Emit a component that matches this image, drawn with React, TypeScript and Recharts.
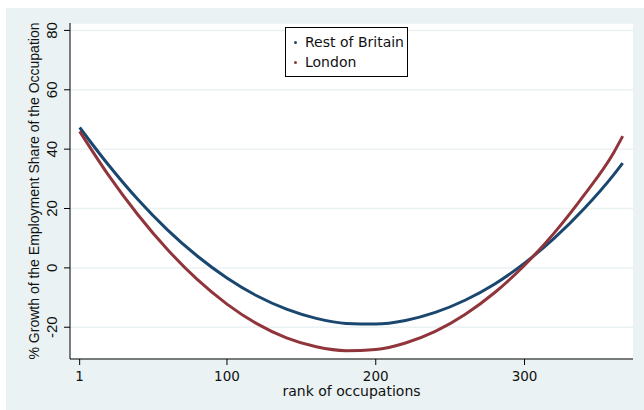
import { CartesianGrid, Legend, Line, LineChart, XAxis, YAxis } from "recharts";

const ranks = [1, 20, 40, 60, 80, 100, 120, 140, 160, 180, 200, 220, 240, 260, 280, 300, 320, 340, 360, 366];
const restOfBritain = [47.3, 34.9, 23.1, 12.8, 4.0, -3.4, -9.4, -13.9, -17.0, -18.7, -18.9, -17.7, -15.0, -10.9, -5.4, 1.6, 10.0, 19.9, 31.4, 35.3];
const london = [46.0, 31.5, 18.0, 6.2, -3.9, -12.2, -18.8, -23.6, -26.6, -27.9, -27.5, -25.3, -21.4, -15.7, -8.3, 0.9, 11.8, 24.5, 38.9, 44.4];

const xTicks = [1, 100, 200, 300];
const yTicks = [-20, 0, 20, 40, 60, 80];
const seriesNames = ["Rest of Britain", "London"];

const BLUE = "#1a476f";
const RED = "#90353b";
const BG = "#eaf2f3";
const H_FONT = "'DejaVu Sans', sans-serif";
const V_FONT = "'Liberation Sans', Arial, sans-serif";

const data = ranks.map((r, i) => ({ rank: r, rob: restOfBritain[i], london: london[i] }));

function XTick({ x, y, payload }: any) {
  return (
    <text x={x} y={y + 11} textAnchor="middle" dominantBaseline="central" fontFamily={H_FONT} fontSize={13.5} fill="#111">
      {payload.value}
    </text>
  );
}

function YTick({ x, y, payload }: any) {
  const cx = x - 12;
  return (
    <text
      x={cx}
      y={y}
      transform={`rotate(-90, ${cx}, ${y})`}
      textAnchor="middle"
      dominantBaseline="central"
      fontFamily={V_FONT}
      fontSize={15}
      fill="#111"
    >
      {payload.value}
    </text>
  );
}

function LegendBox() {
  const colors = [BLUE, RED];
  return (
    <div
      style={{
        width: 123,
        height: 50,
        boxSizing: "border-box",
        border: "1px solid #000",
        background: "#fff",
        position: "relative",
        fontFamily: H_FONT,
        fontSize: 14,
        color: "#111",
      }}
    >
      {seriesNames.map((name, i) => (
        <div key={name} style={{ position: "absolute", left: 0, top: 5 + i * 20, height: 18, display: "flex", alignItems: "center" }}>
          <span style={{ display: "inline-block", width: 3, height: 3, borderRadius: 2, background: colors[i], marginLeft: 8, marginRight: 8 }} />
          <span style={{ lineHeight: "18px" }}>{name}</span>
        </div>
      ))}
    </div>
  );
}

export default function App() {
  return (
    <div style={{ position: "absolute", left: 0, top: 0, width: 644, height: 410, background: "#fff" }}>
      <div style={{ position: "absolute", left: 6, top: 8, width: 638, height: 402, background: BG }}>
        <LineChart width={638} height={402} data={data} margin={{ top: 15, right: 11, bottom: 0, left: 0 }}>
          <CartesianGrid vertical={false} stroke={BG} strokeWidth={1.5} fill="#fff" />
          <XAxis
            dataKey="rank"
            type="number"
            domain={[-5.5, 372.9]}
            ticks={xTicks}
            allowDataOverflow
            height={51}
            tickSize={6}
            tickMargin={0}
            axisLine={{ stroke: "#000" }}
            tickLine={{ stroke: "#000" }}
            tick={<XTick />}
            label={{ value: "rank of occupations", position: "insideBottom", offset: 14, style: { fontFamily: H_FONT, fontSize: 14, fill: "#111" } }}
          />
          <YAxis
            type="number"
            domain={[-30.7, 82.5]}
            ticks={yTicks}
            allowDataOverflow
            width={64}
            tickSize={6}
            tickMargin={0}
            axisLine={{ stroke: "#000" }}
            tickLine={{ stroke: "#000" }}
            tick={<YTick />}
            label={{
              value: "% Growth of the Employment Share of the Occupation",
              angle: -90,
              position: "insideLeft",
              offset: 28,
              style: { textAnchor: "middle", fontFamily: V_FONT, fontSize: 14, fill: "#111" },
            }}
          />
          <Legend
            content={<LegendBox />}
            layout="horizontal"
            verticalAlign="middle"
            align="center"
            wrapperStyle={{ position: "absolute", left: 279, top: 19, width: 123, height: 50 }}
          />
          <Line type="monotone" dataKey="rob" name="Rest of Britain" stroke={BLUE} strokeWidth={3} dot={false} isAnimationActive={false} />
          <Line type="monotone" dataKey="london" name="London" stroke={RED} strokeWidth={3} dot={false} isAnimationActive={false} />
        </LineChart>
      </div>
    </div>
  );
}
